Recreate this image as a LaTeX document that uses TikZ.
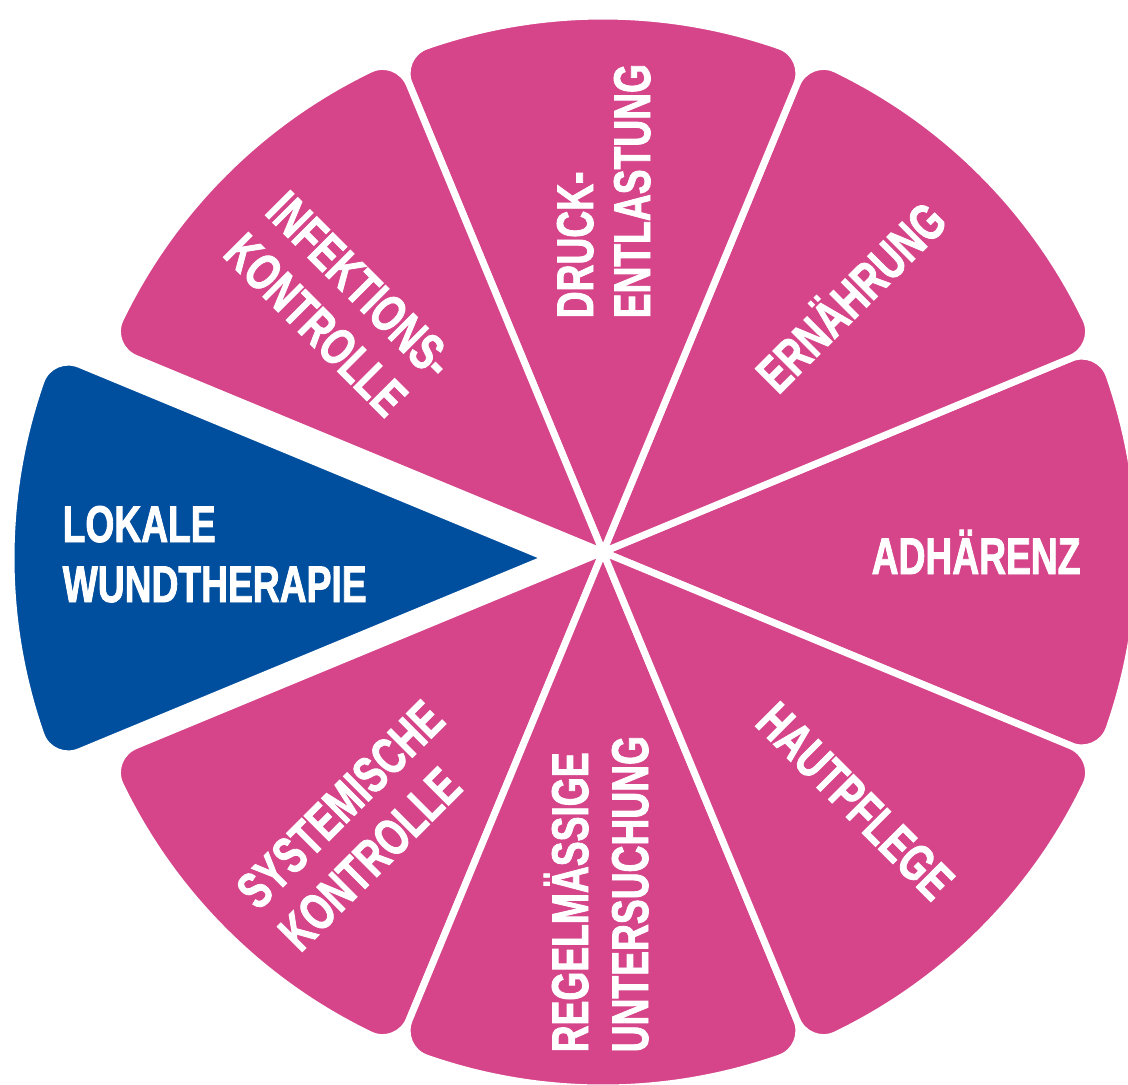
\documentclass[tikz,border=0pt]{standalone}
\usepackage{fontspec}
\newfontfamily\wheelfont{Liberation Sans Bold}[FakeStretch=0.72, FakeBold=1.6]
\usepackage{tikz}
\usetikzlibrary{positioning,calc}

\definecolor{wheelpink}{HTML}{D6448A}
\definecolor{wheelblue}{HTML}{004E9E}

% one rounded slice of the wheel: start angle, end angle, colour
\newcommand{\wheelslice}[3]{%
  \filldraw[slicebox, fill=#3] (0,0) -- (#1:506)
    .. controls (#1:522.6) and ({#1+1.44}:536) .. ({#1+3.2}:536)
    arc[start angle={#1+3.2}, end angle={#2-3.2}, radius=536]
    .. controls ({#2-1.44}:536) and (#2:522.6) .. (#2:506) -- cycle;}

\begin{document}
\begin{tikzpicture}[
        x=0.01cm, y=0.01cm,
        slicebox/.style={draw=white, line width=0.07cm, line join=round},
        lbl/.style={text=white, font=\wheelfont\fontsize{14.7}{17}\selectfont, inner sep=0pt, anchor=base west}
    ]
        \useasboundingbox (-603,-532) rectangle (525,552);

        % Pink slices
        \wheelslice{-22.5}{22.5}{wheelpink}
        \wheelslice{22.5}{67.5}{wheelpink}
        \wheelslice{67.5}{112.5}{wheelpink}
        \wheelslice{112.5}{157.5}{wheelpink}
        \wheelslice{202.5}{247.5}{wheelpink}
        \wheelslice{247.5}{292.5}{wheelpink}
        \wheelslice{292.5}{337.5}{wheelpink}

        % Blue slice, pulled out
        \begin{scope}[shift={(-56,-6)}]
            \wheelslice{157.5}{202.5}{wheelblue}
        \end{scope}

        % Labels
        \node[lbl] (lokale) at (-541,10) {LOKALE};
        \node[lbl] (wundtherapie) at (-541,-50) {WUNDTHERAPIE};

        \node[lbl] (adhaerenz) at (268,-22) {ADHÄRENZ};

        \node[lbl, rotate=90] (druck) at (-10,233) {DRUCK-};
        \node[lbl, rotate=90] (entlastung) at (47,233) {ENTLASTUNG};

        \node[lbl, rotate=90] (regelm) at (-15,-501) {REGELMÄSSIGE};
        \node[lbl, rotate=90] (untersuchung) at (45,-501) {UNTERSUCHUNG};

        \node[lbl, rotate=45] (ernaehrung) at (175,156) {ERNÄHRUNG};
        \node[lbl, rotate=-45] (hautpflege) at (150,-172) {HAUTPFLEGE};

        \node[lbl, rotate=-45] (infektion) at (-340,339) {INFEKTIONS-};
        \node[lbl, rotate=-45] (infkontrolle) at (-382,297) {KONTROLLE};

        \node[lbl, rotate=45] (systemisch) at (-345,-360) {SYSTEMISCHE};
        \node[lbl, rotate=45] (syskontrolle) at (-303,-402) {KONTROLLE};
    \end{tikzpicture}
\end{document}
